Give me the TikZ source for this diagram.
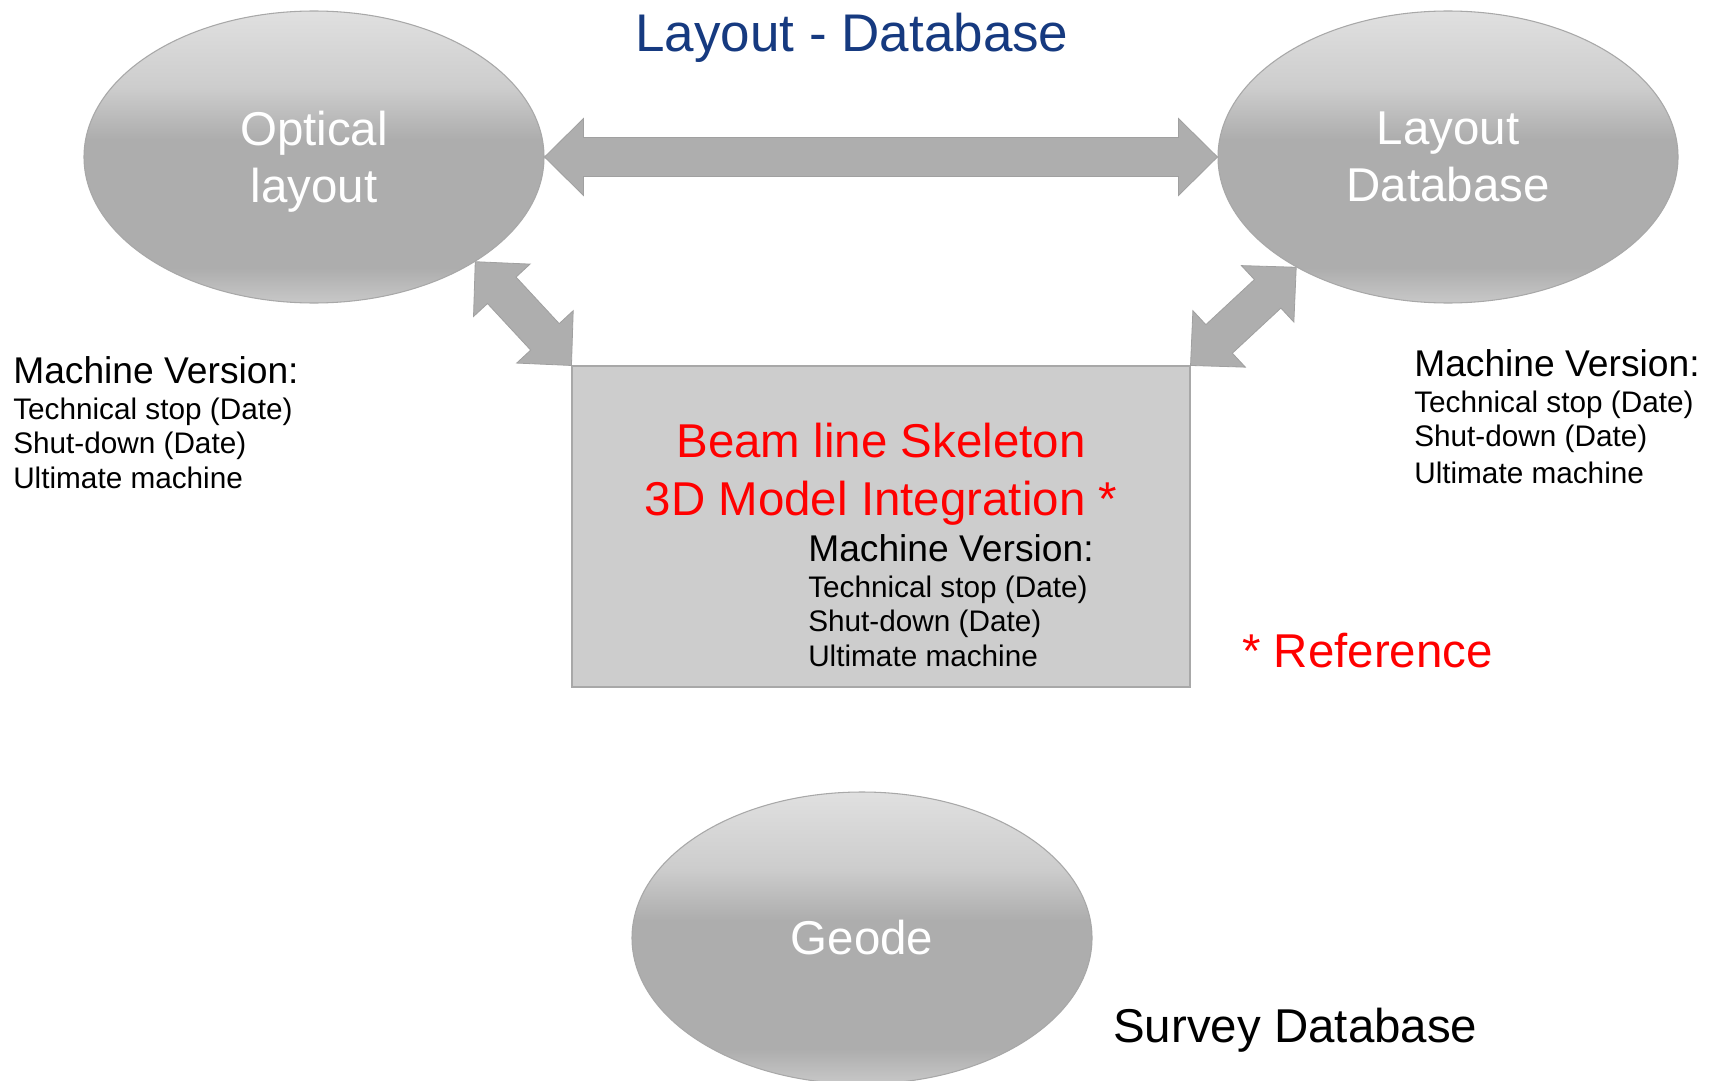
\documentclass[tikz,border=0pt]{standalone}
\usepackage{fontspec}
\setmainfont{Liberation Sans}
\usetikzlibrary{shapes.geometric,calc}
\definecolor{titleblue}{RGB}{22,58,128}
\definecolor{ellbot}{RGB}{200,200,200}
\definecolor{ellmid}{RGB}{173,173,173}
\definecolor{elllt}{RGB}{205,205,205}
\definecolor{elltop}{RGB}{224,224,224}
\definecolor{ellline}{RGB}{168,168,168}
\definecolor{boxfill}{RGB}{205,205,205}
\definecolor{boxline}{RGB}{168,168,168}
\definecolor{arrowfill}{RGB}{174,174,174}
\definecolor{arrowline}{RGB}{160,160,160}
\pgfdeclareverticalshading{ellshade}{100bp}{color(0bp)=(ellbot); color(25bp)=(ellbot); color(31bp)=(ellmid); color(53bp)=(ellmid); color(62bp)=(elllt); color(75bp)=(elltop); color(100bp)=(elltop)}
\newcommand\bigf{\fontsize{35.6pt}{42.5pt}\selectfont}
\newcommand\titlef{\fontsize{39.75pt}{47pt}\selectfont}
\newcommand\medf{\fontsize{27.9pt}{33pt}\selectfont}
\newcommand\smallf{\fontsize{22.3pt}{26pt}\selectfont}
\newcommand\fatarrow[2]{%
  \coordinate (fa1) at ($(#1)!29.25pt!(#2)$);
  \coordinate (fa2) at ($(#2)!29.25pt!(#1)$);
  \filldraw[fatarrowstyle] (#1)
    -- ($(fa1)!28.9pt!90:(#2)$) -- ($(fa1)!14.6pt!90:(#2)$)
    -- ($(fa2)!14.6pt!-90:(#1)$) -- ($(fa2)!28.9pt!-90:(#1)$)
    -- (#2)
    -- ($(fa2)!28.9pt!90:(#1)$) -- ($(fa2)!14.6pt!90:(#1)$)
    -- ($(fa1)!14.6pt!-90:(#2)$) -- ($(fa1)!28.9pt!-90:(#2)$)
    -- cycle;}
\tikzset{
  bubble/.style={ellipse, draw=ellline, line width=0.8pt, shading=ellshade,
    minimum width=345pt, minimum height=219pt, inner sep=0pt,
    text=white, font=\bigf, align=center},
  fatarrowstyle/.style={fill=arrowfill, draw=arrowline, line width=0.6pt, line join=miter},
  skelbox/.style={rectangle, fill=boxfill, draw=boxline, line width=0.8pt,
    minimum width=463.5pt, minimum height=240.75pt, inner sep=0pt},
  redline/.style={anchor=base, text=red, font=\bigf, inner sep=0pt},
  mvhead/.style={anchor=base west, font=\medf, inner sep=0pt},
  mvitem/.style={anchor=base west, font=\smallf, inner sep=0pt},
}
\begin{document}
\begin{tikzpicture}[x=0.75pt,y=-0.75pt]
\clip (0,0) rectangle (1717,1081);
\fill[white] (0,0) rectangle (1717,1081);

\node[titleblue, font=\titlef, anchor=base, inner sep=0pt] (title) at (852,52) {Layout - Database};

\node[bubble] (opt) at (314,157) {Optical\\\smash{layout}};
\node[bubble] (lay) at (1448,157) {Layout\\\smash{Database}};
\node[bubble] (geode) at (862,938) {Geode};

\node[skelbox] (box) at (881,526.5) {};

\fatarrow{opt.east}{lay.west}
\fatarrow{opt.-33.7}{box.north west}
\fatarrow{lay.-144.8}{box.north east}

\node[redline] (red1) at (881,457) {Beam line Skeleton};
\node[redline] (red2) at (881,515) {3D Model Integration *};
\node[mvhead] (bmv) at (808,561.5) {Machine Version:};
\node[mvitem] (bts) at (808,597.5) {Technical stop (Date)};
\node[mvitem] (bsd) at (808,631.5) {Shut-down (Date)};
\node[mvitem] (bum) at (808,666.5) {Ultimate machine};

\node[mvhead] (lmv) at (13,383) {Machine Version:};
\node[mvitem] (lts) at (13,419) {Technical stop (Date)};
\node[mvitem] (lsd) at (13,453) {Shut-down (Date)};
\node[mvitem] (lum) at (13,488) {Ultimate machine};

\node[mvhead] (rmv) at (1414,376) {Machine Version:};
\node[mvitem] (rts) at (1414,412.5) {Technical stop (Date)};
\node[mvitem] (rsd) at (1414,446.5) {Shut-down (Date)};
\node[mvitem] (rum) at (1414,483) {Ultimate machine};

\node[anchor=base west, text=red, font=\bigf, inner sep=0pt] (ref) at (1242,667) {* Reference};
\node[anchor=base west, font=\bigf, inner sep=0pt] (survey) at (1113,1042) {Survey Database};
\end{tikzpicture}
\end{document}
